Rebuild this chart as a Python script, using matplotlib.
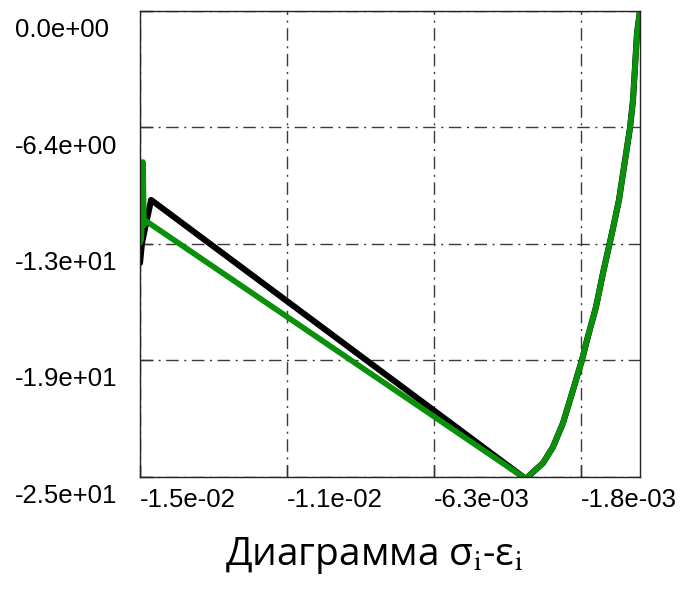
import matplotlib
matplotlib.use("Agg")
import matplotlib.pyplot as plt
import matplotlib.transforms as mtransforms
import numpy as np

plt.rcParams['mathtext.fontset'] = 'stix'

# strain / stress points
# common loading branch (0 -> peak compression)
eps_load = [0.0, -9.2e-5, -1.53e-4, -2.14e-4, -3.06e-4, -4.90e-4, -6.43e-4,
            -8.57e-4, -1.132e-3, -1.346e-3, -1.622e-3, -1.775e-3, -2.050e-3,
            -2.356e-3, -2.662e-3, -2.968e-3, -3.305e-3, -3.49e-3]
sig_load = [0.0, -1.20, -3.06, -4.86, -6.39, -8.52, -10.32,
            -12.12, -14.31, -16.16, -17.97, -19.06, -20.70,
            -22.50, -23.81, -24.69, -25.23, -25.56]

# softening branch, black curve
eps_black = [-3.49e-3, -1.496e-2, -1.524e-2, -1.530e-2]
sig_black = [-25.56, -10.32, -12.67, -13.76]

# softening branch, green curve
eps_green = [-3.49e-3, -1.5116e-2, -1.518e-2, -1.521e-2, -1.524e-2,
             -1.527e-2, -1.530e-2]
sig_green = [-25.56, -11.47, -11.69, -8.25, -11.69, -12.51, -12.67]

x_ticks = [-0.0153, -0.0108, -0.0063, -0.0018]
x_labels = ["-1.5e-02", "-1.1e-02", "-6.3e-03", "-1.8e-03"]
y_ticks = [0.0, -6.3625, -12.725, -19.0875, -25.45]
y_labels = ["0.0e+00", "-6.4e+00", "-1.3e+01", "-1.9e+01", "-2.5e+01"]

fig = plt.figure(figsize=(6.93, 5.89), dpi=100)
ax = fig.add_axes([140 / 693, 112 / 589, 500 / 693, 466 / 589])

grid_style = dict(color='#3a3a3a', lw=1.0, ls=(0, (9, 4, 1.5, 4)))
ax.set_xlim(-0.0153, 0.0)
ax.set_ylim(-25.45, 0.0)
ax.set_xticks(x_ticks)
ax.set_yticks(y_ticks)
ax.grid(True, **grid_style)

# black first, green drawn on top
line_kw = dict(solid_joinstyle='round', solid_capstyle='round')
ax.plot(eps_load, sig_load, color='black', lw=4.4, **line_kw)
ax.plot(eps_black, sig_black, color='black', lw=4.4, **line_kw)
ax.plot(eps_load, sig_load, color='#0a900a', lw=4.1, **line_kw)
ax.plot(eps_green, sig_green, color='#0a900a', lw=4.1, **line_kw)

for s in ax.spines.values():
    s.set_linewidth(1.0)
    s.set_color('#222222')

tick_font = dict(family=['Liberation Sans', 'DejaVu Sans'], size=18.5)
ax.tick_params(direction='in', length=9, width=1, color='#333333', pad=8)
ax.set_xticklabels(x_labels, ha='left', **tick_font)
ax.set_yticklabels([])

ytr = mtransforms.offset_copy(ax.get_yaxis_transform(), fig=fig, x=0, y=-7, units='dots')
for v, lab in zip(y_ticks, y_labels):
    ax.text(-0.25, v, lab, transform=ytr, ha='left', va='top', **tick_font)

fig.text(374 / 693, 24 / 589, 'Диаграмма σ$_{\\mathrm{i}}$-ε$_{\\mathrm{i}}$',
         ha='center', va='baseline', fontsize=28,
         family=['Open Sans', 'DejaVu Sans'])

fig.savefig('out.png', dpi=100)
